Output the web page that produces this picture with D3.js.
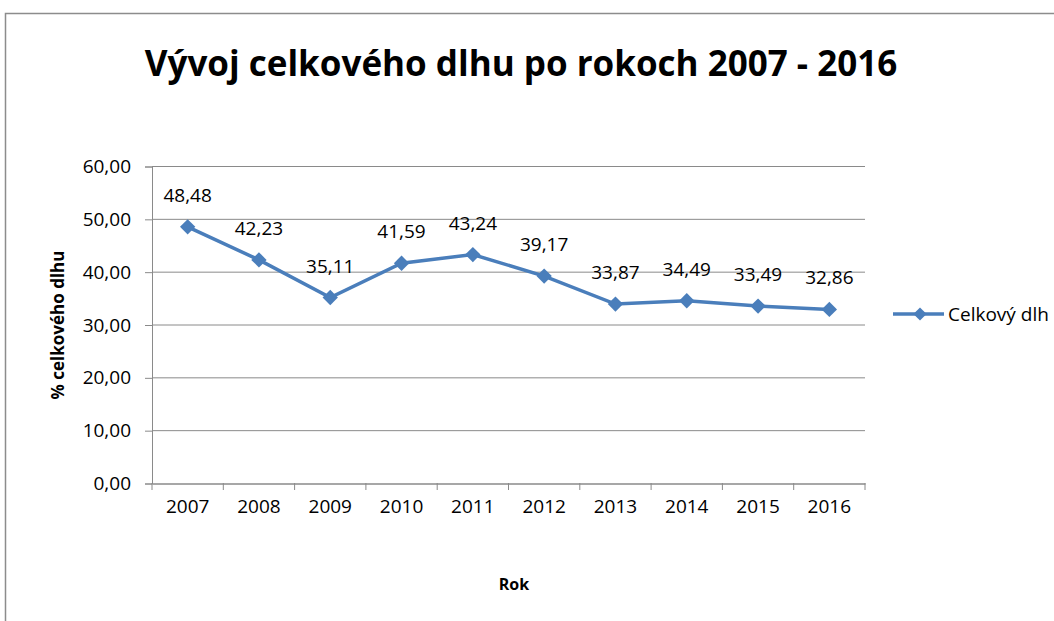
<!DOCTYPE html>
<html>
<head>
<meta charset="utf-8">
<script src="https://cdnjs.cloudflare.com/ajax/libs/d3/7.8.5/d3.min.js"></script>
<style>
body{margin:0;background:#fff;overflow:hidden;}
text{font-family:"Open Sans","Noto Sans",sans-serif;fill:#000;}
</style>
</head>
<body>
<script>
var years=["2007","2008","2009","2010","2011","2012","2013","2014","2015","2016"];
var dlh=[48.48,42.23,35.11,41.59,43.24,39.17,33.87,34.49,33.49,32.86];
var yTicks=[0,10,20,30,40,50,60];

var width=1054,height=621;
var pLeft=152,pRight=865,pTop=166,pBottom=483;
var fmt=function(v){return d3.format(".2f")(v).replace(".",",");};

var svg=d3.select("body").append("svg").attr("width",width).attr("height",height);

// outer frame
svg.append("rect").attr("x",5.5).attr("y",13.5).attr("width",1060).attr("height",620)
	.attr("fill","none").attr("stroke","#8c8c8c").attr("stroke-width",1.5);

var xscale=d3.scaleBand().domain(years).range([pLeft,pRight]);
var yscale=d3.scaleLinear().domain([0,60]).range([pBottom,pTop]);

// gridlines
svg.append("g").selectAll("line").data(yTicks.filter(function(d){return d>0;})).enter().append("line")
	.attr("x1",pLeft).attr("x2",pRight).attr("y1",function(d){return yscale(d)+0.5;}).attr("y2",function(d){return yscale(d)+0.5;})
	.attr("stroke","#8a8a8a").attr("stroke-width",1);

var yaxis=d3.axisLeft(yscale).tickValues(yTicks).tickFormat(fmt).tickSize(7).tickPadding(14);
var gy=svg.append("g").attr("transform","translate("+pLeft+",0.5)").call(yaxis);
gy.select(".domain").attr("stroke","#8a8a8a");
gy.selectAll(".tick line").attr("stroke","#8a8a8a");
gy.selectAll("text").style("font-size","19px").attr("fill","#000");

var xaxis=d3.axisBottom(xscale).tickSize(0).tickPadding(16);
var gx=svg.append("g").attr("transform","translate(0,"+(pBottom+0.5)+")").call(xaxis);
gx.select(".domain").attr("stroke","#8a8a8a").attr("stroke-width",1.5);
gx.selectAll("text").style("font-size","19px").attr("fill","#000");
// category boundary ticks
svg.append("g").selectAll("line").data(years.concat(["end"])).enter().append("line")
	.attr("x1",function(d,i){return i<years.length?xscale(d):pRight;})
	.attr("x2",function(d,i){return i<years.length?xscale(d):pRight;})
	.attr("y1",pBottom).attr("y2",pBottom+7).attr("stroke","#8a8a8a");

var cx=function(d,i){return xscale(years[i])+xscale.bandwidth()/2;};

svg.append("path").datum(dlh).attr("fill","none").attr("stroke","#4a7ebb").attr("stroke-width",3.5)
	.attr("d",d3.line().x(function(d,i){return cx(d,i);}).y(function(d){return yscale(d);}));

svg.append("g").selectAll("path").data(dlh).enter().append("path")
	.attr("transform",function(d,i){return "translate("+cx(d,i)+","+yscale(d)+")";})
	.attr("d",d3.symbol().type(d3.symbolDiamond2).size(150))
	.attr("fill","#4a7ebb");

svg.append("g").selectAll("text").data(dlh).enter().append("text")
	.attr("x",function(d,i){return cx(d,i);}).attr("y",function(d){return yscale(d)-25;})
	.attr("text-anchor","middle").style("font-size","19px").text(fmt);

// title
svg.append("text").attr("x",521).attr("y",76).attr("text-anchor","middle")
	.style("font-size","35px").style("font-weight","bold").text("Vývoj celkového dlhu po rokoch 2007 - 2016");

// axis titles
svg.append("text").attr("transform","translate(64,325) rotate(-90)").attr("text-anchor","middle")
	.style("font-size","17px").style("font-weight","bold").text("% celkového dlhu");
svg.append("text").attr("x",514).attr("y",590).attr("text-anchor","middle")
	.style("font-size","16px").style("font-weight","bold").text("Rok");

// legend
svg.append("line").attr("x1",893).attr("x2",944).attr("y1",314).attr("y2",314).attr("stroke","#4a7ebb").attr("stroke-width",3.5);
svg.append("path").attr("transform","translate(920,314)").attr("d",d3.symbol().type(d3.symbolDiamond2).size(110)).attr("fill","#4a7ebb");
svg.append("text").attr("x",948).attr("y",321).style("font-size","19px").text("Celkový dlh");
</script>
</body>
</html>
